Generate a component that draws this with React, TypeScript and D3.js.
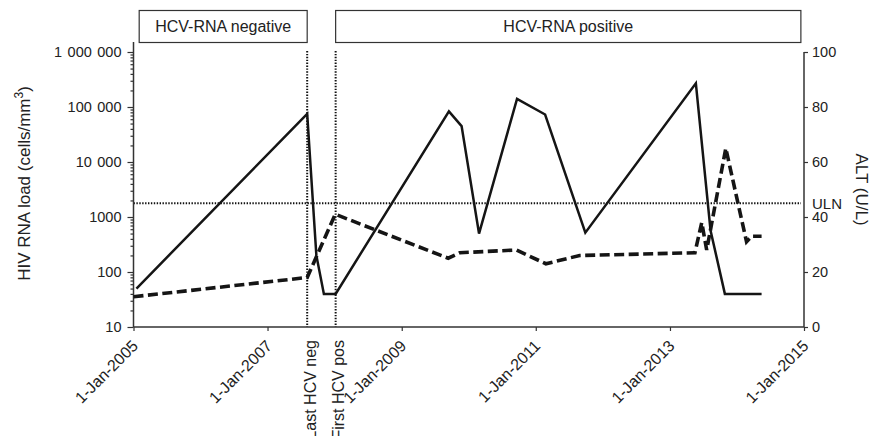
import React, { useEffect, useRef } from 'react';
import * as d3 from 'd3';

// HIV RNA load, solid line on the left log axis
const hivDates = [
  '2005-01-17', '2007-08-05', '2007-09-24', '2007-11-04', '2008-01-07',
  '2009-09-15', '2009-11-23', '2010-02-26', '2010-09-21', '2011-02-21',
  '2011-09-28', '2013-05-22', '2013-08-10', '2013-10-27', '2014-05-15',
];
const hivValues = [50, 75000, 200, 40, 40, 83000, 45000, 500, 140000, 73000, 520, 270000, 570, 40, 40];

// ALT, dashed line on the right axis
const altDates = [
  '2005-01-01', '2007-08-05', '2008-01-05', '2009-09-11', '2009-11-13',
  '2010-09-18', '2011-02-25', '2011-08-28', '2013-05-17', '2013-06-23',
  '2013-07-20', '2013-11-01', '2014-02-22', '2014-03-21', '2014-05-15',
];
const altValues = [11, 18, 41, 25, 27, 28, 23, 26, 27, 38, 28, 65, 31, 33, 33];

const leftTicks = [10, 100, 1000, 10000, 100000, 1000000];
const leftTickLabels = ['10', '100', '1000', '10 000', '100 000', '1 000 000'];
const rightTicks = [0, 20, 40, 60, 80, 100];
const xTicks = ['2005-01-01', '2007-01-01', '2009-01-01', '2011-01-01', '2013-01-01', '2015-01-01'];

const uln = 45;
const markerDates = ['2007-08-05', '2008-01-07'];
const markerLabels = ['Last HCV neg', 'First HCV pos'];
const phaseLabels = ['HCV-RNA negative', 'HCV-RNA positive'];
const phaseStarts = ['2005-02-01', '2008-01-07'];
const phaseEnds = ['2007-08-05', '2014-12-15'];

const parse = d3.timeParse('%Y-%m-%d');
const FONT = '"Liberation Sans", Arial, Helvetica, sans-serif';

const App = () => {
  const svgRef = useRef<SVGSVGElement>(null);

  useEffect(() => {
    const svg = d3.select(svgRef.current);
    svg.selectAll('*').remove();

    const left = 133.5, right = 804, top = 52, bottom = 327;

    const x = d3.scaleTime()
      .domain([parse('2005-01-01')!, parse('2015-01-01')!])
      .range([left, right]);
    const yLeft = d3.scaleLog().domain([10, 1000000]).range([bottom, top]);
    const yRight = d3.scaleLinear().domain([0, 100]).range([bottom, top]);

    const g = svg.append('g').attr('font-family', FONT);

    // phase boxes
    phaseLabels.forEach((lab, i) => {
      const x0 = x(parse(phaseStarts[i])!);
      const x1 = x(parse(phaseEnds[i])!);
      g.append('rect')
        .attr('x', x0).attr('y', 10.5)
        .attr('width', x1 - x0).attr('height', 32)
        .attr('fill', 'white').attr('stroke', '#333').attr('stroke-width', 1.2);
      g.append('text')
        .attr('x', (x0 + x1) / 2).attr('y', 32)
        .attr('text-anchor', 'middle').attr('font-size', 16).attr('fill', '#222')
        .text(lab);
    });

    // ULN line
    g.append('line')
      .attr('x1', left).attr('x2', right - 3)
      .attr('y1', yRight(uln)).attr('y2', yRight(uln))
      .attr('stroke', '#111').attr('stroke-width', 2).attr('stroke-dasharray', '1.4,1.5');
    g.append('text')
      .attr('x', 812).attr('y', yRight(uln) + 5.5)
      .attr('font-size', 15).attr('fill', '#222').text('ULN');

    // vertical marker lines
    markerDates.forEach((d, i) => {
      const xm = x(parse(d)!);
      g.append('line')
        .attr('x1', xm).attr('x2', xm).attr('y1', top - 1).attr('y2', bottom)
        .attr('stroke', '#111').attr('stroke-width', 2).attr('stroke-dasharray', '1.4,1.5');
      g.append('text')
        .attr('transform', `translate(${xm + 8.5},340) rotate(-90)`)
        .attr('text-anchor', 'end').attr('font-size', 16).attr('fill', '#222')
        .text(markerLabels[i]);
    });

    // left axis
    const leftAxis = g.append('g').attr('transform', `translate(${left},0)`);
    leftAxis.call(
      d3.axisLeft(yLeft).tickValues(leftTicks)
        .tickFormat((_, i) => leftTickLabels[i]).tickSize(6).tickPadding(6).tickSizeOuter(0)
    );
    const minor: number[] = [];
    leftTicks.slice(0, -1).forEach(t => { for (let k = 2; k < 10; k++) minor.push(t * k); });
    leftAxis.append('g').call(
      d3.axisLeft(yLeft).tickValues(minor).tickFormat(() => '').tickSize(3).tickSizeOuter(0)
    );
    leftAxis.selectAll('.domain').remove();
    leftAxis.append('line').attr('y1', 42).attr('y2', bottom).attr('stroke', '#333').attr('stroke-width', 1.5);

    // right axis
    const rightAxis = g.append('g').attr('transform', `translate(${right},0)`);
    rightAxis.call(
      d3.axisRight(yRight).tickValues(rightTicks).tickSize(4).tickPadding(4).tickSizeOuter(0)
    );
    rightAxis.selectAll('.domain').remove();
    rightAxis.append('line').attr('y1', top).attr('y2', bottom).attr('stroke', '#333').attr('stroke-width', 1.5);

    // bottom axis
    const xAxis = g.append('g').attr('transform', `translate(0,${bottom})`);
    xAxis.call(
      d3.axisBottom(x).tickValues(xTicks.map(d => parse(d)!))
        .tickFormat(d => d3.timeFormat('%-d-%b-%Y')(d as Date)).tickSize(4).tickSizeOuter(0)
    );
    xAxis.selectAll('.domain').remove();
    xAxis.append('line').attr('x1', left).attr('x2', right).attr('stroke', '#333').attr('stroke-width', 1.5);
    xAxis.selectAll('.tick text')
      .attr('y', null).attr('dy', null)
      .attr('text-anchor', 'end')
      .attr('transform', 'translate(5,20) rotate(-45)');

    svg.selectAll('.tick line').attr('stroke', '#333').attr('stroke-width', 1.2);
    svg.selectAll('.tick text')
      .attr('font-family', FONT).attr('fill', '#222');
    leftAxis.selectAll('.tick text').attr('font-size', 14.5).style('word-spacing', '1.5px');
    rightAxis.selectAll('.tick text').attr('font-size', 14.5);
    xAxis.selectAll('.tick text').attr('font-size', 16);

    // axis titles
    const yt = g.append('text')
      .attr('transform', `translate(30,${(top + bottom) / 2 - 6}) rotate(-90)`)
      .attr('text-anchor', 'middle').attr('font-size', 17).attr('fill', '#222');
    yt.append('tspan').text('HIV RNA load (cells/mm');
    yt.append('tspan').attr('dy', -7).attr('font-size', 12).text('3');
    yt.append('tspan').attr('dy', 7).text(')');

    g.append('text')
      .attr('transform', `translate(856,${(top + bottom) / 2}) rotate(90)`)
      .attr('text-anchor', 'middle').attr('font-size', 17).attr('fill', '#222')
      .text('ALT (U/L)');

    // data lines
    const hivLine = d3.line<number>()
      .x((_, i) => x(parse(hivDates[i])!))
      .y(v => yLeft(v));
    g.append('path')
      .attr('d', hivLine(hivValues))
      .attr('fill', 'none').attr('stroke', '#151515').attr('stroke-width', 2.5);

    const altLine = d3.line<number>()
      .x((_, i) => x(parse(altDates[i])!))
      .y(v => yRight(v));
    g.append('path')
      .attr('d', altLine(altValues))
      .attr('fill', 'none').attr('stroke', '#151515').attr('stroke-width', 3.6)
      .attr('stroke-dasharray', '10,4.5');
  }, []);

  return (
    <svg
      ref={svgRef}
      width={876}
      height={436}
      style={{ position: 'absolute', left: 0, top: 0, background: 'white' }}
    />
  );
};

export default App;
